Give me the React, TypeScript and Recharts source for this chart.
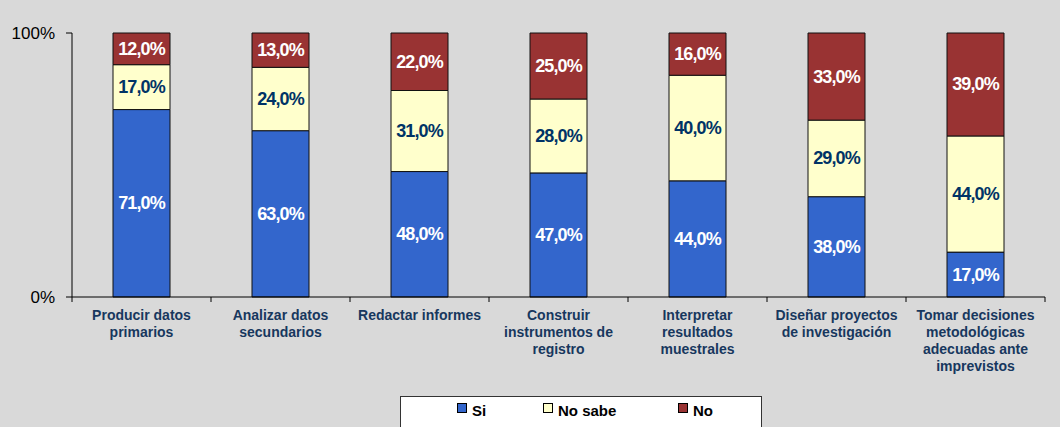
import { Bar, BarChart, LabelList, Legend, XAxis, YAxis } from 'recharts';

const categories = [
  'Producir datos\nprimarios',
  'Analizar datos\nsecundarios',
  'Redactar informes',
  'Construir\ninstrumentos de\nregistro',
  'Interpretar\nresultados\nmuestrales',
  'Diseñar proyectos\nde investigación',
  'Tomar decisiones\nmetodológicas\nadecuadas ante\nimprevistos',
];
const si = [71, 63, 48, 47, 44, 38, 17];
const noSabe = [17, 24, 31, 28, 40, 29, 44];
const no = [12, 13, 22, 25, 16, 33, 39];
const yTicks = [0, 1];
const yTickLabels = ['0%', '100%'];

const data = categories.map((name, i) => ({
  name,
  idx: i + 0.5,
  si: si[i],
  noSabe: noSabe[i],
  no: no[i],
}));

const series = [
  { key: 'si', label: 'Si', fill: '#3366CC', text: '#FFFFFF', values: si },
  { key: 'noSabe', label: 'No sabe', fill: '#FFFFCC', text: '#003366', values: noSabe },
  { key: 'no', label: 'No', fill: '#993333', text: '#FFFFFF', values: no },
];

const FONT = '"Liberation Sans", Arial, sans-serif';

function CategoryTick(props: any) {
  const { x, y, payload } = props;
  const lines = String(payload.value).split('\n');
  return (
    <text
      x={x}
      y={y}
      textAnchor="middle"
      fill="#17375E"
      fontFamily={FONT}
      fontWeight="bold"
      fontSize={14}
    >
      {lines.map((l, i) => (
        <tspan key={i} x={x} dy={i === 0 ? 11 : 17}>
          {l}
        </tspan>
      ))}
    </text>
  );
}

function makeLabel(values: number[], color: string) {
  return (props: any) => {
    const { x, y, width, height, index } = props;
    return (
      <text
        x={x + width / 2}
        y={y + height / 2}
        textAnchor="middle"
        dominantBaseline="central"
        fill={color}
        fontFamily={FONT}
        fontWeight="bold"
        fontSize={18}
        letterSpacing={-0.9}
      >
        {values[index].toFixed(1).replace('.', ',')}%
      </text>
    );
  };
}

function LegendBox() {
  return (
    <div
      style={{
        background: '#FFFFFF',
        border: '1px solid #333',
        height: 40,
        boxSizing: 'border-box',
        fontFamily: FONT,
        fontWeight: 'bold',
        fontSize: 15,
        color: '#000',
      }}
    >
      {series.map((s, i) => (
        <div
          key={s.key}
          style={{
            position: 'absolute',
            left: [57, 143, 278][i],
            top: 6,
            display: 'flex',
            alignItems: 'center',
          }}
        >
          <span
            style={{
              display: 'inline-block',
              width: 8,
              height: 8,
              background: s.fill,
              border: '1px solid #000',
              marginRight: 5,
              marginTop: -6,
            }}
          />
          {s.label}
        </div>
      ))}
    </div>
  );
}

export default function App() {
  return (
    <div
      style={{
        position: 'absolute',
        left: 0,
        top: 0,
        width: 1060,
        height: 427,
        background: '#D9D9D9',
        overflow: 'hidden',
      }}
    >
      <BarChart
        width={1060}
        height={427}
        data={data}
        stackOffset="expand"
        barSize={57}
        margin={{ top: 33, right: 15, left: 12, bottom: 0 }}
      >
        <XAxis
          xAxisId="a"
          dataKey="idx"
          type="number"
          domain={[0, 7]}
          ticks={[0, 1, 2, 3, 4, 5, 6, 7]}
          tickFormatter={() => ''}
          axisLine={{ stroke: '#000' }}
          tickLine={{ stroke: '#000' }}
          tickSize={5}
          height={6}
        />
        <XAxis
          xAxisId="b"
          dataKey="name"
          interval={0}
          axisLine={false}
          tickLine={false}
          tick={<CategoryTick />}
          height={84}
          tickMargin={0}
        />
        <YAxis
          type="number"
          domain={[0, 1]}
          ticks={yTicks}
          tickFormatter={(v: number) => yTickLabels[yTicks.indexOf(v)]}
          axisLine={{ stroke: '#000' }}
          tickLine={{ stroke: '#000' }}
          tickSize={6}
          tickMargin={11}
          width={60}
          tick={{ fill: '#000', fontSize: 17, fontFamily: FONT }}
        />
        <Legend
          content={<LegendBox />}
          wrapperStyle={{ position: 'absolute', left: 400, top: 396, width: 362, height: 40 }}
        />
        {series.map((s) => (
          <Bar
            key={s.key}
            xAxisId="b"
            dataKey={s.key}
            stackId="a"
            fill={s.fill}
            stroke="#111"
            strokeWidth={1}
            isAnimationActive={false}
          >
            <LabelList dataKey={s.key} content={makeLabel(s.values, s.text)} />
          </Bar>
        ))}
      </BarChart>
    </div>
  );
}
